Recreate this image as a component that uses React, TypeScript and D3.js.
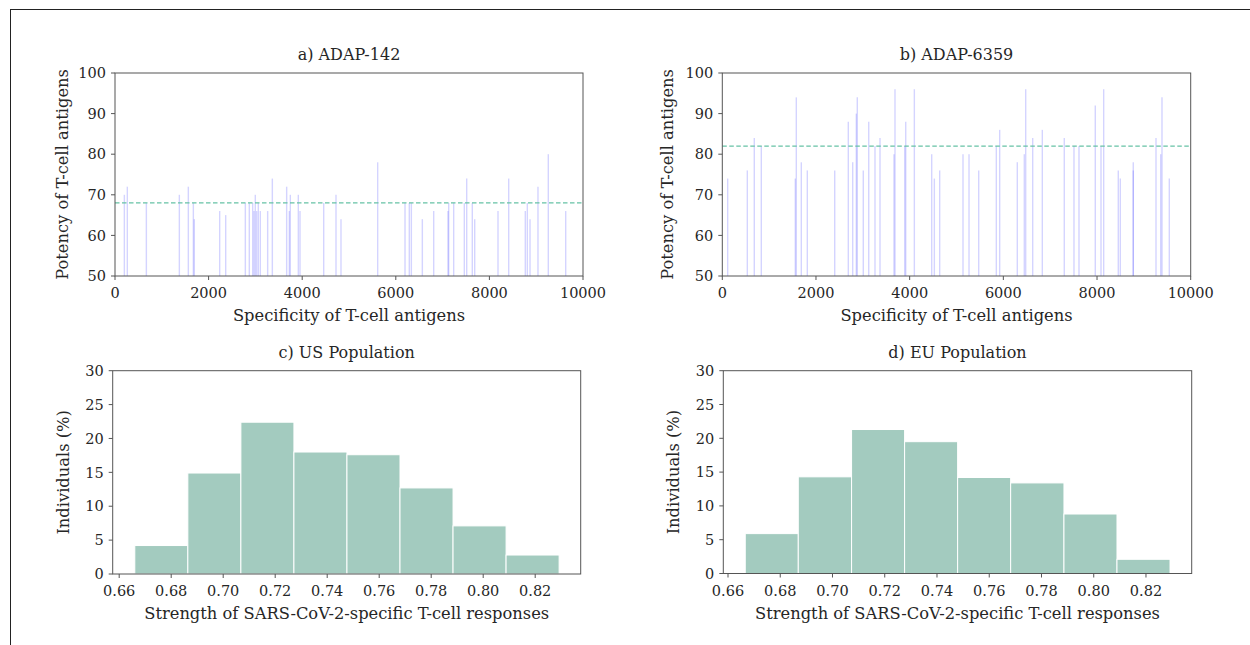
import React from "react";
import * as d3 from "d3";

// ---------- data ----------
const topXTicks = [0, 2000, 4000, 6000, 8000, 10000];
const topYTicks = [50, 60, 70, 80, 90, 100];

const adap142X = [200, 263, 670, 1375, 1567, 1674, 1695, 2237, 2365, 2785, 2870, 2942, 2970, 2998, 3027, 3062, 3105, 3262, 3362, 3668, 3725, 3746, 3917, 3953, 4459, 4722, 4829, 5613, 6197, 6289, 6332, 6567, 6810, 7115, 7130, 7237, 7464, 7515, 7635, 7686, 8184, 8412, 8767, 8810, 8868, 9038, 9259, 9630];
const adap142Y = [70, 72, 68, 70, 72, 68, 64, 66, 65, 68, 68, 68, 66, 70, 66, 68, 66, 66, 74, 72, 66, 70, 70, 66, 68, 70, 64, 78, 68, 68, 68, 64, 66, 66, 68, 68, 68, 74, 68, 64, 66, 74, 66, 68, 64, 72, 80, 66];
const adap142Threshold = 68;

const adap6359X = [115, 534, 683, 833, 1559, 1580, 1687, 1815, 2400, 2690, 2784, 2861, 2882, 3010, 3126, 3260, 3367, 3666, 3687, 3894, 3916, 4100, 4470, 4527, 4641, 5139, 5267, 5474, 5850, 5922, 6298, 6448, 6477, 6627, 6832, 7301, 7508, 7615, 7963, 8085, 8142, 8454, 8497, 8774, 8774, 9259, 9359, 9387, 9543];
const adap6359Y = [74, 76, 84, 82, 74, 94, 78, 76, 76, 88, 78, 90, 94, 76, 88, 82, 84, 80, 96, 82, 88, 96, 80, 74, 76, 80, 80, 76, 82, 86, 78, 80, 96, 84, 86, 84, 82, 82, 92, 82, 96, 76, 74, 78, 76, 84, 80, 94, 74];
const adap6359Threshold = 82;

const histXTicks = [0.66, 0.68, 0.7, 0.72, 0.74, 0.76, 0.78, 0.8, 0.82];
const histYTicks = [0, 5, 10, 15, 20, 25, 30];

const usBinEdges = [0.666, 0.6864, 0.7068, 0.7272, 0.7476, 0.768, 0.7884, 0.8088, 0.8292];
const usPercent = [4.2, 14.9, 22.4, 18.0, 17.6, 12.7, 7.1, 2.8];

const euBinEdges = [0.6666, 0.6869, 0.7073, 0.7276, 0.7479, 0.7682, 0.7886, 0.8089, 0.8292];
const euPercent = [5.9, 14.3, 21.3, 19.5, 14.2, 13.4, 8.8, 2.1];

// ---------- styles ----------
const FONT = "DejaVu Serif";
const TICK_FS = 14.5;
const LABEL_FS = 16.3;
const TITLE_FS = 16;
const SPINE = "#555";
const TEXT = "#262626";

type Box = { x0: number; x1: number; y0: number; y1: number };

function Frame({ box, xScale, yScale, xTicks, yTicks, xFmt, yFmt, title, xLabel, yLabel, yLabelX }: any) {
  const { x0, x1, y0, y1 } = box;
  return (
    <g>
      <rect x={x0} y={y0} width={x1 - x0} height={y1 - y0} fill="none" stroke={SPINE} strokeWidth={1} />
      {xTicks.map((t: number) => (
        <g key={"x" + t}>
          <line x1={xScale(t)} x2={xScale(t)} y1={y1} y2={y1 + 4} stroke={SPINE} strokeWidth={1} />
          <text x={xScale(t)} y={y1 + 22} textAnchor="middle" fontFamily={FONT} fontSize={TICK_FS} fill={TEXT}>
            {xFmt(t)}
          </text>
        </g>
      ))}
      {yTicks.map((t: number) => (
        <g key={"y" + t}>
          <line x1={x0 - 4} x2={x0} y1={yScale(t)} y2={yScale(t)} stroke={SPINE} strokeWidth={1} />
          <text x={x0 - 9} y={yScale(t)} dy="0.36em" textAnchor="end" fontFamily={FONT} fontSize={TICK_FS} fill={TEXT}>
            {yFmt(t)}
          </text>
        </g>
      ))}
      <text x={(x0 + x1) / 2} y={y0 - 13} textAnchor="middle" fontFamily={FONT} fontSize={TITLE_FS} fill={TEXT}>
        {title}
      </text>
      <text x={(x0 + x1) / 2} y={y1 + 45} textAnchor="middle" fontFamily={FONT} fontSize={LABEL_FS} fill={TEXT}>
        {xLabel}
      </text>
      <text
        transform={`translate(${yLabelX},${(y0 + y1) / 2}) rotate(-90)`}
        dy="0.36em"
        textAnchor="middle"
        fontFamily={FONT}
        fontSize={LABEL_FS}
        fill={TEXT}
      >
        {yLabel}
      </text>
    </g>
  );
}

function StemPanel({ box, xs, ys, threshold, title, yLabelX }: any) {
  const x = d3.scaleLinear().domain([0, 10000]).range([box.x0, box.x1]);
  const y = d3.scaleLinear().domain([50, 100]).range([box.y1, box.y0]);
  return (
    <g>
      {xs.map((v: number, i: number) => (
        <line key={i} x1={x(v)} x2={x(v)} y1={y(50)} y2={y(ys[i])} stroke="rgba(60,60,255,0.22)" strokeWidth={1.4} />
      ))}
      <line x1={box.x0} x2={box.x1} y1={y(threshold)} y2={y(threshold)} stroke="#66c2a5" strokeWidth={1.3} strokeDasharray="4.5,2.5" />
      <Frame
        box={box}
        xScale={x}
        yScale={y}
        xTicks={topXTicks}
        yTicks={topYTicks}
        xFmt={(t: number) => String(t)}
        yFmt={(t: number) => String(t)}
        title={title}
        xLabel="Specificity of T-cell antigens"
        yLabel="Potency of T-cell antigens"
        yLabelX={yLabelX}
      />
    </g>
  );
}

function HistPanel({ box, edges, values, domain, title, yLabelX }: any) {
  const x = d3.scaleLinear().domain(domain).range([box.x0, box.x1]);
  const y = d3.scaleLinear().domain([0, 30]).range([box.y1, box.y0]);
  return (
    <g>
      {values.map((v: number, i: number) => (
        <rect
          key={i}
          x={x(edges[i])}
          y={y(v)}
          width={x(edges[i + 1]) - x(edges[i])}
          height={y(0) - y(v)}
          fill="#a3cbbf"
          stroke="#ffffff"
          strokeWidth={1}
        />
      ))}
      <Frame
        box={box}
        xScale={x}
        yScale={y}
        xTicks={histXTicks}
        yTicks={histYTicks}
        xFmt={d3.format(".2f")}
        yFmt={(t: number) => String(t)}
        title={title}
        xLabel="Strength of SARS-CoV-2-specific T-cell responses"
        yLabel="Individuals (%)"
        yLabelX={yLabelX}
      />
    </g>
  );
}

export default function App() {
  const boxA: Box = { x0: 115, x1: 583, y0: 73, y1: 276 };
  const boxB: Box = { x0: 722.3, x1: 1190.7, y0: 73, y1: 276 };
  const boxC: Box = { x0: 112.7, x1: 580.7, y0: 370.7, y1: 574 };
  const boxD: Box = { x0: 723.3, x1: 1191.7, y0: 370.7, y1: 573.5 };
  return (
    <svg width={1250} height={645} style={{ position: "absolute", left: 0, top: 0, background: "#fff" }}>
      <rect x={0} y={0} width={1250} height={645} fill="#fff" />
      <line x1={10} x2={1250} y1={9.5} y2={9.5} stroke="#222" strokeWidth={1} />
      <line x1={10.5} x2={10.5} y1={9} y2={645} stroke="#222" strokeWidth={1} />
      <StemPanel box={boxA} xs={adap142X} ys={adap142Y} threshold={adap142Threshold} title="a) ADAP-142" yLabelX={62} />
      <StemPanel box={boxB} xs={adap6359X} ys={adap6359Y} threshold={adap6359Threshold} title="b) ADAP-6359" yLabelX={667} />
      <HistPanel box={boxC} edges={usBinEdges} values={usPercent} domain={[0.6575, 0.8375]} title="c) US Population" yLabelX={63} />
      <HistPanel box={boxD} edges={euBinEdges} values={euPercent} domain={[0.6582, 0.8375]} title="d) EU Population" yLabelX={673} />
    </svg>
  );
}
